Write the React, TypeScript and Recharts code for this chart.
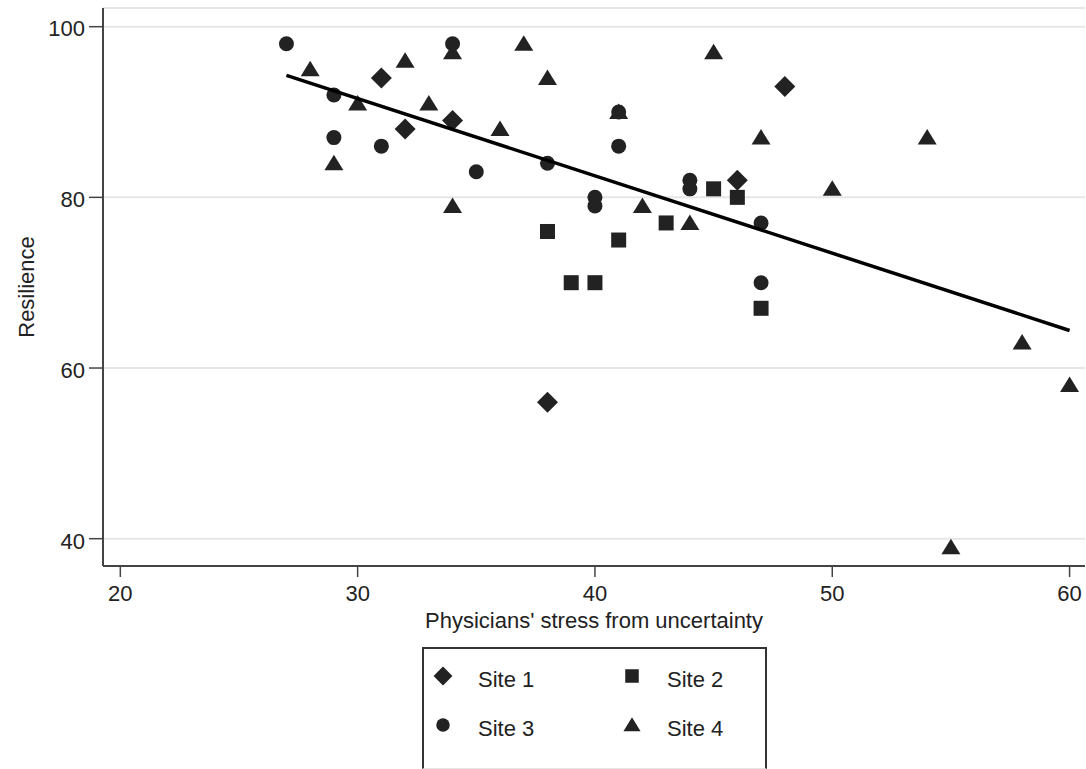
import React from 'react';
import { ScatterChart, Scatter, XAxis, YAxis, CartesianGrid } from 'recharts';

// values
const site1X = [31, 32, 34, 38, 46, 48];
const site1Y = [94, 88, 89, 56, 82, 93];
const site2X = [38, 39, 40, 41, 43, 45, 46, 47];
const site2Y = [76, 70, 70, 75, 77, 81, 80, 67];
const site3X = [27, 29, 29, 31, 34, 35, 38, 40, 40, 41, 41, 44, 44, 47, 47];
const site3Y = [98, 92, 87, 86, 98, 83, 84, 80, 79, 90, 86, 82, 81, 77, 70];
const site4X = [28, 29, 30, 32, 33, 34, 34, 36, 37, 38, 41, 42, 44, 45, 47, 50, 54, 55, 58, 60];
const site4Y = [95, 84, 91, 96, 91, 97, 79, 88, 98, 94, 90, 79, 77, 97, 87, 81, 87, 39, 63, 58];
const fitX = [27, 60];
const fitY = [94.3, 64.4];

const xTicks = [20, 30, 40, 50, 60];
const yTicks = [40, 60, 80, 100];

const toPoints = (xs: number[], ys: number[]) => xs.map((x, i) => ({ x, y: ys[i] }));

const INK = '#222';
const FONT = '"Liberation Sans", Arial, sans-serif';
const FS = 22;

type Kind = 'diamond' | 'square' | 'circle' | 'triangle';

const Marker = ({ cx, cy, kind, s = 1 }: { cx: number; cy: number; kind: Kind; s?: number }) => {
  if (cx == null || cy == null) return <g />;
  if (kind === 'diamond') {
    const d = 10.5 * s;
    return <polygon points={`${cx},${cy - d} ${cx + d},${cy} ${cx},${cy + d} ${cx - d},${cy}`} fill={INK} />;
  }
  if (kind === 'square') {
    const h = 7.5 * s;
    return <rect x={cx - h} y={cy - h} width={2 * h} height={2 * h} fill={INK} />;
  }
  if (kind === 'circle') {
    return <circle cx={cx} cy={cy} r={7.5 * s} fill={INK} />;
  }
  return <polygon points={`${cx},${cy - 8.5 * s} ${cx + 9.5 * s},${cy + 7 * s} ${cx - 9.5 * s},${cy + 7 * s}`} fill={INK} />;
};

const shapeOf = (kind: Kind) => (props: any) => <Marker cx={props.cx} cy={props.cy} kind={kind} />;

const legendItems: { label: string; kind: Kind }[] = [
  { label: 'Site 1', kind: 'diamond' },
  { label: 'Site 2', kind: 'square' },
  { label: 'Site 3', kind: 'circle' },
  { label: 'Site 4', kind: 'triangle' },
];

const YLabel = (props: any) => {
  const vb = props.viewBox || { x: 0, y: 0, height: 0 };
  const x = vb.x + 34;
  const y = vb.y + vb.height / 2;
  return (
    <text x={x} y={y} transform={`rotate(-90 ${x} ${y})`} textAnchor="middle" fill={INK} fontSize={FS} fontFamily={FONT}>
      Resilience
    </text>
  );
};

export default function App() {
  return (
    <div style={{ position: 'absolute', left: 0, top: 0, width: 1086, height: 769, background: '#fff', fontFamily: FONT }}>
      <ScatterChart width={1086} height={769} margin={{ top: 8, right: 1, bottom: 0, left: 0 }}>
        <CartesianGrid horizontal vertical={false} stroke="#e6e6e6" strokeWidth={2} />
        <XAxis
          type="number"
          dataKey="x"
          domain={[19.27, 60.65]}
          ticks={xTicks}
          allowDataOverflow
          height={203}
          tickSize={11}
          tickMargin={8}
          axisLine={{ stroke: '#444', strokeWidth: 2 }}
          tickLine={{ stroke: '#444', strokeWidth: 1.5 }}
          tick={{ fill: INK, fontSize: FS, fontFamily: FONT }}
          label={{ value: "Physicians' stress from uncertainty", position: 'insideTop', offset: 46, fill: INK, fontSize: FS, fontFamily: FONT }}
        />
        <YAxis
          type="number"
          dataKey="y"
          domain={[36.8, 102.19]}
          ticks={yTicks}
          allowDataOverflow
          width={103}
          tickSize={14}
          tickMargin={4}
          axisLine={{ stroke: '#444', strokeWidth: 2 }}
          tickLine={{ stroke: '#444', strokeWidth: 1.5 }}
          tick={{ fill: INK, fontSize: FS, fontFamily: FONT, dy: 2 }}
          label={YLabel}
        />
        <Scatter name="Site 1" data={toPoints(site1X, site1Y)} shape={shapeOf('diamond')} isAnimationActive={false} />
        <Scatter name="Site 2" data={toPoints(site2X, site2Y)} shape={shapeOf('square')} isAnimationActive={false} />
        <Scatter name="Site 3" data={toPoints(site3X, site3Y)} shape={shapeOf('circle')} isAnimationActive={false} />
        <Scatter name="Site 4" data={toPoints(site4X, site4Y)} shape={shapeOf('triangle')} isAnimationActive={false} />
        <Scatter
          name="Fit"
          data={toPoints(fitX, fitY)}
          line={{ stroke: '#000', strokeWidth: 3.5 }}
          shape={() => <g />}
          legendType="none"
          isAnimationActive={false}
        />
      </ScatterChart>
      <div
        style={{
          position: 'absolute',
          left: 422,
          top: 647,
          width: 345,
          height: 122,
          borderTop: '2px solid #333',
          borderLeft: '2px solid #333',
          borderRight: '2px solid #333',
          borderBottom: '1px solid #e4e4e4',
          boxSizing: 'border-box',
          background: '#fff',
        }}
      >
        <svg width={341} height={119} style={{ display: 'block' }}>
          {legendItems.map((item, i) => {
            const col = i % 2;
            const row = Math.floor(i / 2);
            const mx = 19 + col * 189;
            const my = 27 + row * 49;
            return (
              <g key={item.label}>
                <Marker cx={mx} cy={my} kind={item.kind} s={0.9} />
                <text x={mx + 35} y={my + 11} fill={INK} fontSize={FS} fontFamily={FONT}>
                  {item.label}
                </text>
              </g>
            );
          })}
        </svg>
      </div>
    </div>
  );
}
